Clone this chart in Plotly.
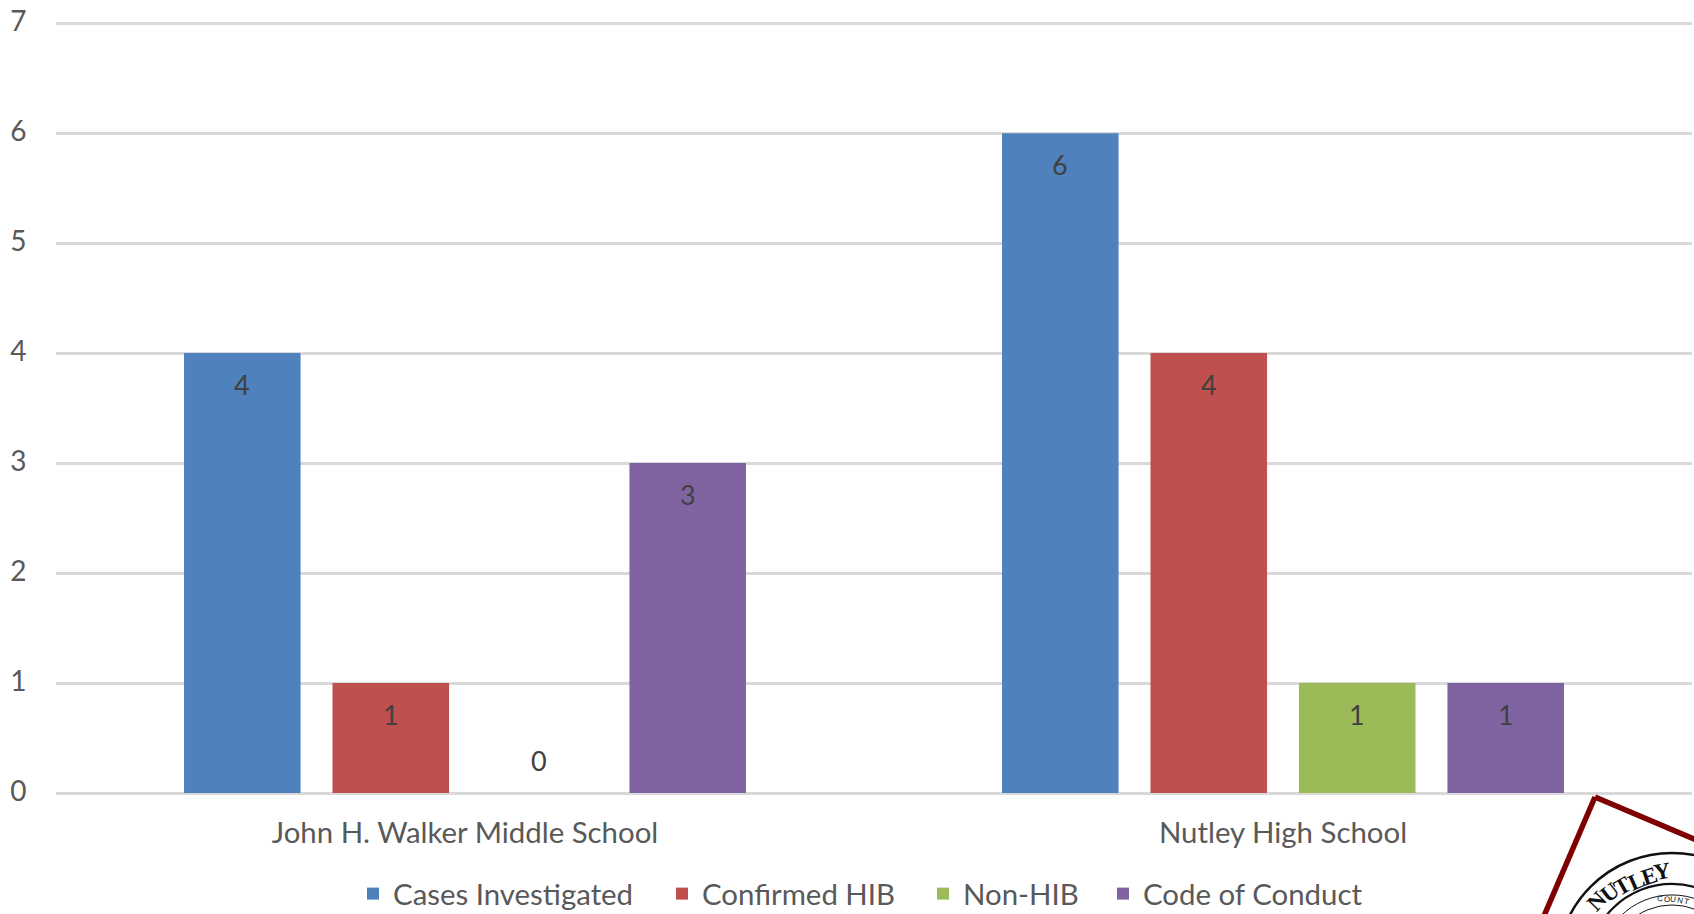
import plotly.graph_objects as go

categories = ["John H. Walker Middle School", "Nutley High School"]
series_names = ["Cases Investigated", "Confirmed HIB", "Non-HIB", "Code of Conduct"]
cases_investigated = [4, 6]
confirmed_hib = [1, 4]
non_hib = [0, 1]
code_of_conduct = [3, 1]
colors = ["#4F81BD", "#C0504D", "#9BBB59", "#8064A2"]
y_ticks = [0, 1, 2, 3, 4, 5, 6, 7]

W, H = 1694, 914
L, R, T, B = 56, 1692, 20.5, 793
FONT = "Lato"
TXT = "#595959"
SLOT = 148.5
DARK_RED = "#7F0000"

all_series = [cases_investigated, confirmed_hib, non_hib, code_of_conduct]
legend_left = [353, 662, 923, 1103]

def px_x(x):
    return (x - L) / (R - L)

def px_y(y):
    return (B - y) / (B - T)

fig = go.Figure()
annotations = []
layout_legends = {}
for i, (name, vals, col) in enumerate(zip(series_names, all_series, colors)):
    key = "legend" if i == 0 else f"legend{i + 1}"
    fig.add_trace(go.Bar(name=name, x=categories, y=vals, legend=key,
                         marker=dict(color=col, line=dict(width=0))))
    layout_legends[key] = dict(
        orientation="h", x=legend_left[i] / W, xref="container", xanchor="left",
        y=1 - 894 / H, yref="container", yanchor="middle",
        font=dict(family=FONT, size=29.4, color=TXT), bgcolor="rgba(0,0,0,0)",
        itemwidth=30,
    )
    for cat, v in zip(categories, vals):
        annotations.append(dict(
            x=cat, y=v, xref="x", yref="y", text=str(v), showarrow=False,
            xshift=(i - 1.5) * SLOT, yshift=33 if v == 0 else -31,
            font=dict(family=FONT, size=27, color="#404040"),
        ))

# Seal in the lower right corner of the page
corner = (1595, 797)
shapes = [
    dict(type="line", xref="paper", yref="paper", x0=px_x(corner[0]), y0=px_y(corner[1]),
         x1=px_x(1720), y1=px_y(850), line=dict(color=DARK_RED, width=5.5), layer="above"),
    dict(type="line", xref="paper", yref="paper", x0=px_x(corner[0]), y0=px_y(corner[1]),
         x1=px_x(1538), y1=px_y(930), line=dict(color=DARK_RED, width=5.5), layer="above"),
]
seal_cx, seal_cy = 1672, 968
for r, w in [(115, 2.5), (84, 2.2), (73, 1), (63, 1)]:
    shapes.append(dict(type="circle", xref="paper", yref="paper",
                       x0=px_x(seal_cx - r), x1=px_x(seal_cx + r),
                       y0=px_y(seal_cy + r), y1=px_y(seal_cy - r),
                       line=dict(color="#111111", width=w), layer="above"))

seal_letters = [("N", 1597, 902, -46), ("U", 1610, 893, -38), ("T", 1622, 887, -30),
                ("L", 1636, 882, -24), ("E", 1649, 877, -18), ("Y", 1662, 872, -10)]
for ch, x, y, rot in seal_letters:
    annotations.append(dict(x=px_x(x), y=px_y(y), xref="paper", yref="paper", text=f"<b>{ch}</b>",
                            showarrow=False, textangle=rot, xanchor="center", yanchor="middle",
                            font=dict(family="Liberation Serif", size=23, color="#111111")))
county_letters = [("C", 1660, 899, 2), ("O", 1666.5, 899.5, 5), ("U", 1673, 900, 8), ("N", 1679.5, 901, 11), ("T", 1686, 902, 14)]
for ch, x, y, rot in county_letters:
    annotations.append(dict(x=px_x(x), y=px_y(y), xref="paper", yref="paper", text=ch,
                            showarrow=False, textangle=rot, xanchor="center", yanchor="middle",
                            font=dict(family="Liberation Sans", size=8, color="#111111")))

fig.update_layout(
    width=W, height=H, autosize=False,
    margin=dict(l=L, r=W - R, t=T, b=H - B, pad=0),
    paper_bgcolor="white", plot_bgcolor="white",
    barmode="group", bargap=0.274, bargroupgap=0.215,
    font=dict(family=FONT, size=27, color=TXT),
    showlegend=True,
    xaxis=dict(showgrid=False, showline=False, ticks="outside", ticklen=14, tickcolor="rgba(0,0,0,0)",
               tickfont=dict(family=FONT, size=29.4, color=TXT)),
    yaxis=dict(range=[0, 7.02], tickvals=y_ticks, showgrid=True, gridcolor="#D9D9D9", gridwidth=2.5,
               zeroline=True, zerolinecolor="#D9D9D9", zerolinewidth=2.5, showline=False,
               ticks="outside", ticklen=23, tickcolor="rgba(0,0,0,0)", ticklabelshift=-2,
               tickfont=dict(family=FONT, size=28, color=TXT)),
    annotations=annotations,
    shapes=shapes,
    **layout_legends,
)

fig.write_html("out.html", config={"displayModeBar": False},
               post_script="document.body.style.margin='0';document.body.style.overflow='hidden';")
